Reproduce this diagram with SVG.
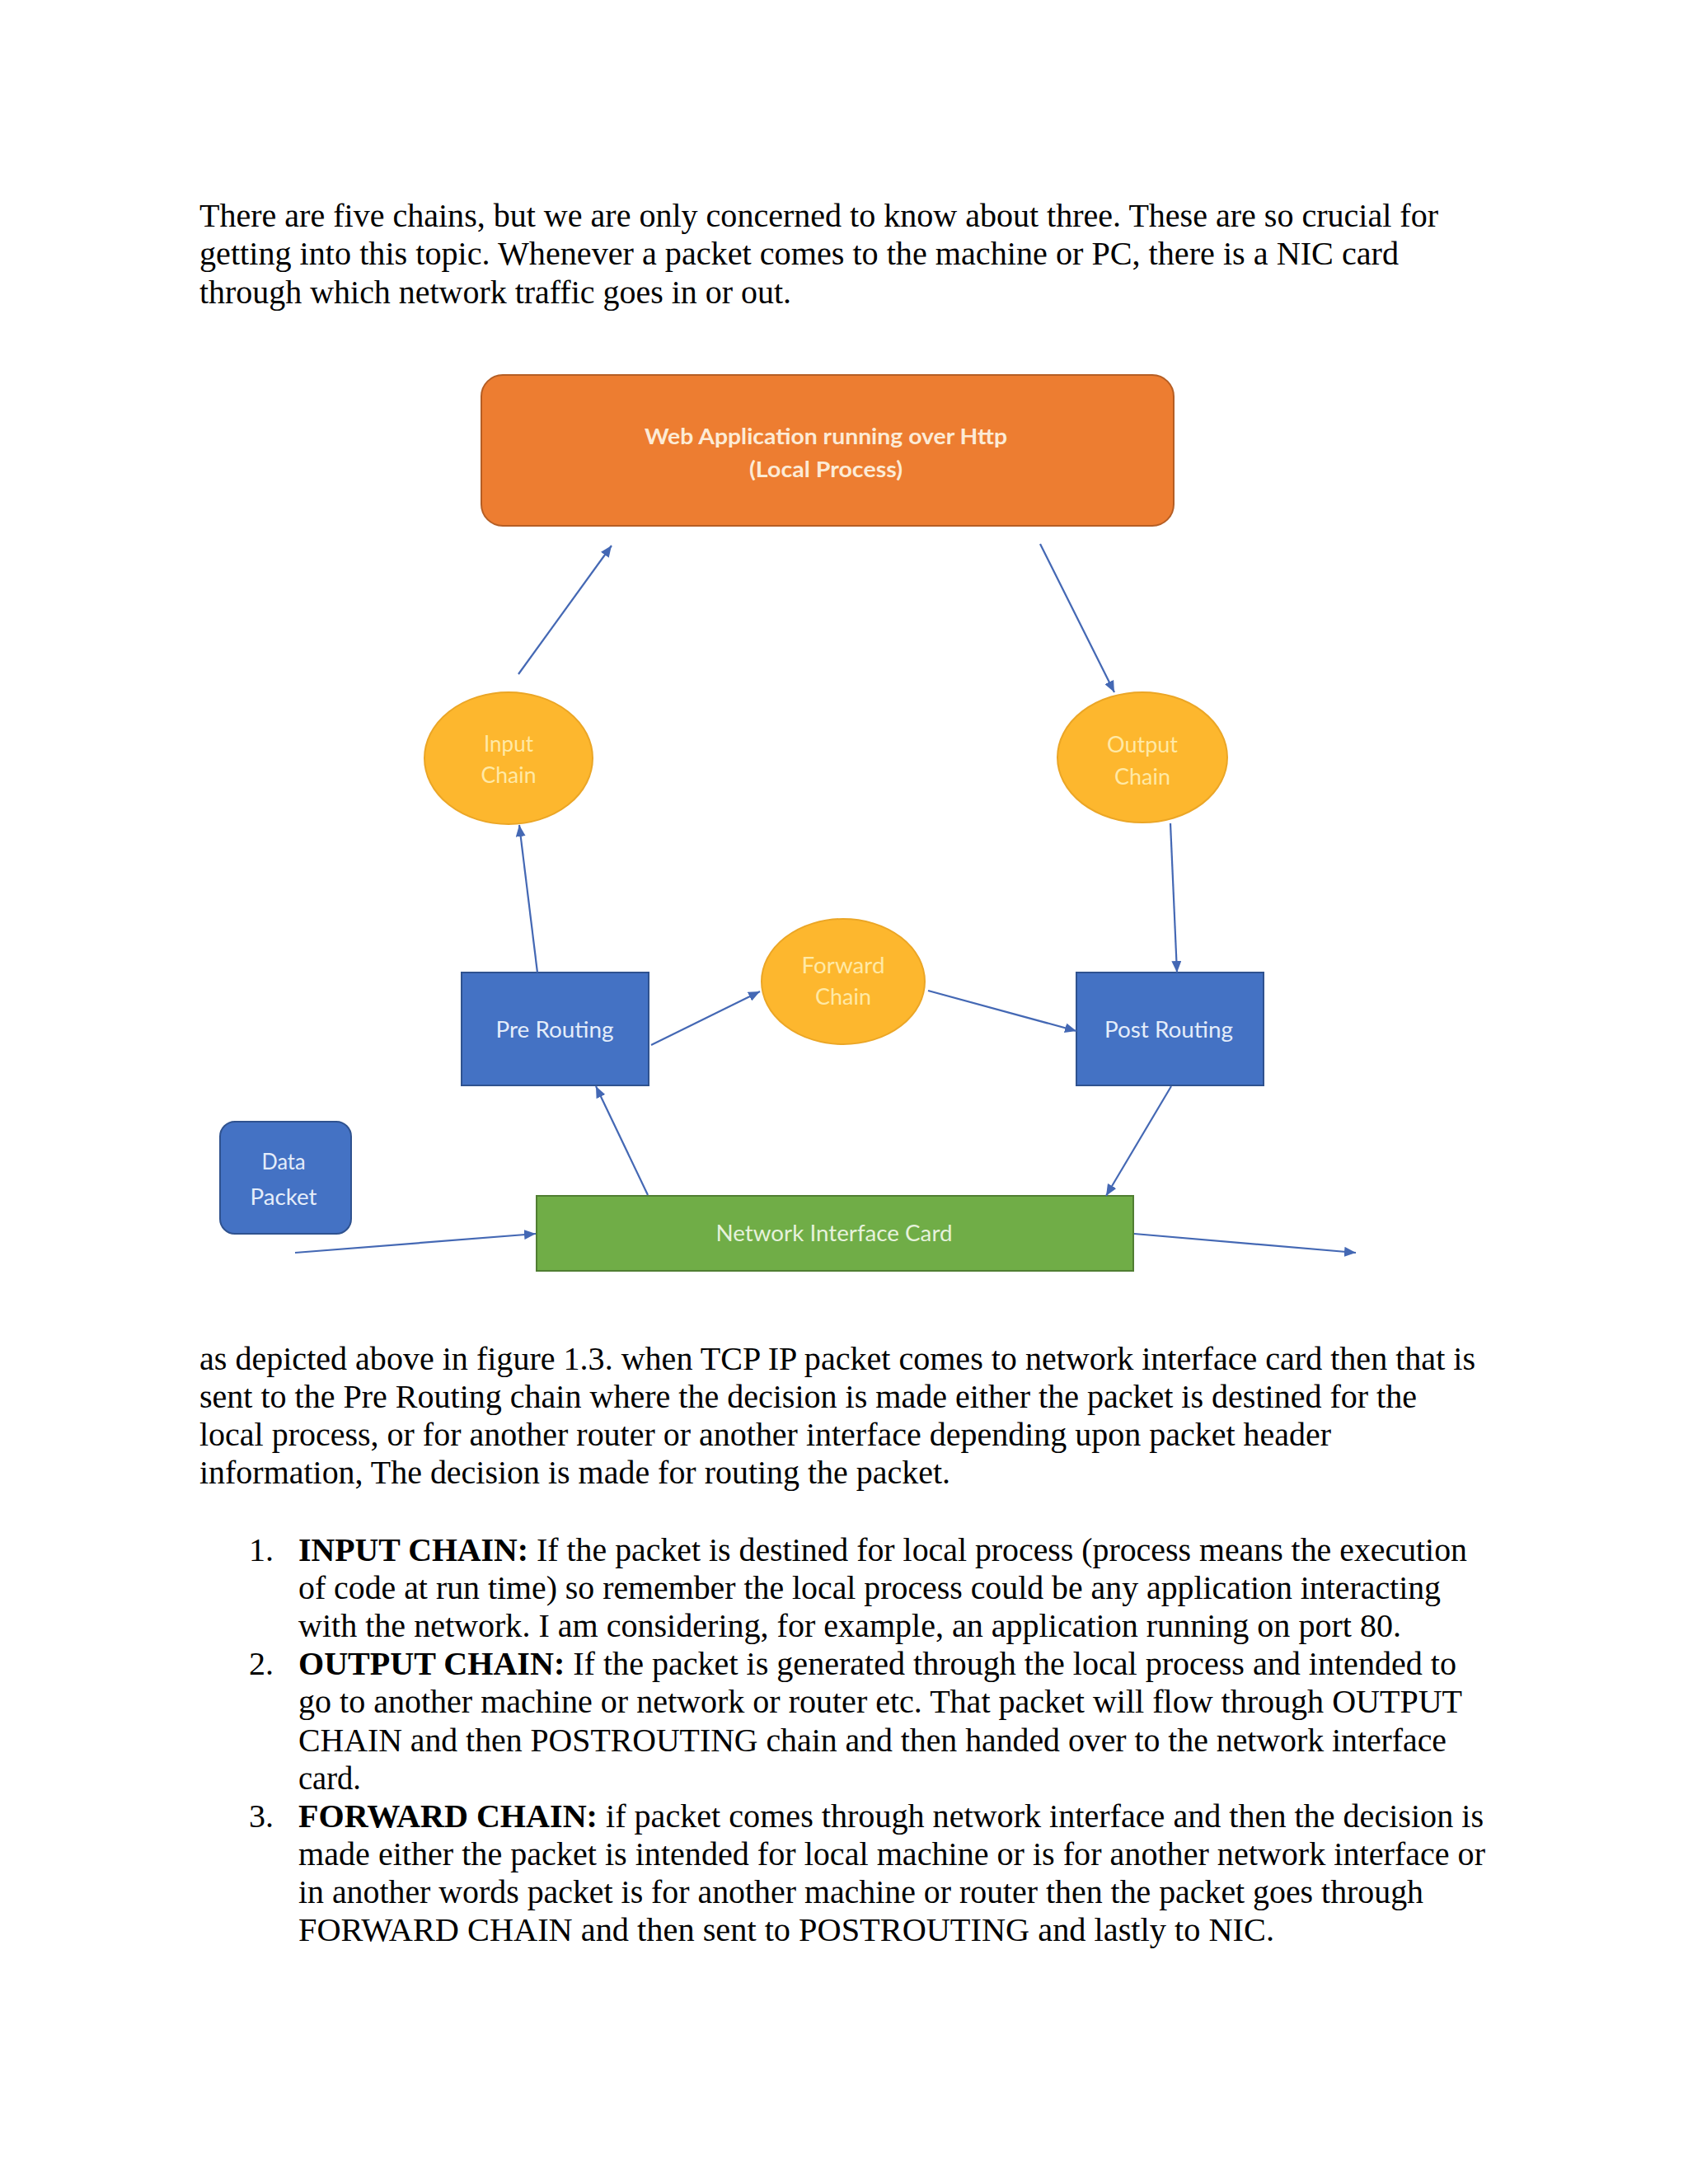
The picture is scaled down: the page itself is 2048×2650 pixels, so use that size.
<svg xmlns="http://www.w3.org/2000/svg" width="2048" height="2650" viewBox="0 0 2048 2650">
<defs>
<marker id="ah" markerUnits="userSpaceOnUse" markerWidth="16" markerHeight="12" refX="14" refY="6" orient="auto">
<path d="M0,0 L14,6 L0,12 z" fill="#4468B4"/>
</marker>
<style>
.body{font-family:"Liberation Serif","Times New Roman",serif;font-size:40px;fill:#000}
.b{font-weight:bold}
.lbl{font-family:Lato,"Open Sans",sans-serif;font-size:27px;text-anchor:middle}
.ell{fill:#FDB72E;stroke:#EBA626;stroke-width:2}
.ellt{fill:#FFE9A6}
.blue{fill:#4472C4;stroke:#2F528F;stroke-width:2}
.bluet{fill:#E4EDFA}
.conn line{stroke:#4468B4;stroke-width:2.2;marker-end:url(#ah)}
</style>
</defs>
<rect width="2048" height="2650" fill="#fff"/>

<g id="para1" class="body">
<text x="242" y="275" textLength="1503" lengthAdjust="spacingAndGlyphs">There are five chains, but we are only concerned to know about three. These are so crucial for</text>
<text x="242" y="321" textLength="1455" lengthAdjust="spacingAndGlyphs">getting into this topic. Whenever a packet comes to the machine or PC, there is a NIC card</text>
<text x="242" y="368" textLength="718" lengthAdjust="spacingAndGlyphs">through which network traffic goes in or out.</text>
</g>

<g id="webapp">
<rect x="584" y="455" width="840" height="183" rx="26" fill="#ED7D31" stroke="#B55E24" stroke-width="2"/>
<text class="lbl" x="1002" y="539" font-weight="bold" fill="#FCEBD6" textLength="440" lengthAdjust="spacingAndGlyphs">Web Application running over Http</text>
<text class="lbl" x="1002" y="579" font-weight="bold" fill="#FCEBD6" textLength="186" lengthAdjust="spacingAndGlyphs">(Local Process)</text>
</g>

<g id="input-chain">
<ellipse class="ell" cx="617" cy="920" rx="102" ry="80"/>
<text class="lbl ellt" x="617" y="912" textLength="60" lengthAdjust="spacingAndGlyphs">Input</text>
<text class="lbl ellt" x="617" y="950" textLength="67" lengthAdjust="spacingAndGlyphs">Chain</text>
</g>

<g id="output-chain">
<ellipse class="ell" cx="1386" cy="919" rx="103" ry="79"/>
<text class="lbl ellt" x="1386" y="913" textLength="86" lengthAdjust="spacingAndGlyphs">Output</text>
<text class="lbl ellt" x="1386" y="952" textLength="68" lengthAdjust="spacingAndGlyphs">Chain</text>
</g>

<g id="forward-chain">
<ellipse class="ell" cx="1023" cy="1191" rx="99" ry="76"/>
<text class="lbl ellt" x="1023" y="1181" textLength="101" lengthAdjust="spacingAndGlyphs">Forward</text>
<text class="lbl ellt" x="1023" y="1219" textLength="68" lengthAdjust="spacingAndGlyphs">Chain</text>
</g>

<g id="pre-routing">
<rect class="blue" x="560" y="1180" width="227" height="137"/>
<text class="lbl bluet" x="673" y="1259" textLength="143" lengthAdjust="spacingAndGlyphs">Pre Routing</text>
</g>

<g id="post-routing">
<rect class="blue" x="1306" y="1180" width="227" height="137"/>
<text class="lbl bluet" x="1418" y="1259" textLength="156" lengthAdjust="spacingAndGlyphs">Post Routing</text>
</g>

<g id="data-packet">
<rect class="blue" x="267" y="1361" width="159" height="136" rx="18"/>
<text class="lbl bluet" x="344" y="1419" textLength="53" lengthAdjust="spacingAndGlyphs">Data</text>
<text class="lbl bluet" x="344" y="1462" textLength="81" lengthAdjust="spacingAndGlyphs">Packet</text>
</g>

<g id="nic">
<rect x="651" y="1451" width="724" height="91" fill="#70AD47" stroke="#507E32" stroke-width="2"/>
<text class="lbl" x="1012" y="1506" fill="#E6F2DC" textLength="287" lengthAdjust="spacingAndGlyphs">Network Interface Card</text>
</g>

<g id="connectors" class="conn">
<line x1="629" y1="818" x2="742" y2="662"/>
<line x1="1262" y1="660" x2="1352" y2="840"/>
<line x1="652" y1="1180" x2="630" y2="1001"/>
<line x1="1420" y1="999" x2="1428" y2="1180"/>
<line x1="790" y1="1268" x2="922" y2="1203"/>
<line x1="1126" y1="1202" x2="1306" y2="1251"/>
<line x1="786" y1="1450" x2="723" y2="1318"/>
<line x1="1421" y1="1318" x2="1342" y2="1451"/>
<line x1="358" y1="1520" x2="650" y2="1497"/>
<line x1="1376" y1="1497" x2="1645" y2="1520"/>
</g>

<g id="para2" class="body">
<text x="242" y="1662" textLength="1548" lengthAdjust="spacingAndGlyphs">as depicted above in figure 1.3. when TCP IP packet comes to network interface card then that is</text>
<text x="242" y="1708" textLength="1477" lengthAdjust="spacingAndGlyphs">sent to the Pre Routing chain where the decision is made either the packet is destined for the</text>
<text x="242" y="1754" textLength="1373" lengthAdjust="spacingAndGlyphs">local process, or for another router or another interface depending upon packet header</text>
<text x="242" y="1800" textLength="911" lengthAdjust="spacingAndGlyphs">information, The decision is made for routing the packet.</text>
</g>

<g id="list" class="body">
<text x="302" y="1894">1.</text>
<text x="362" y="1894" textLength="1418" lengthAdjust="spacingAndGlyphs"><tspan class="b">INPUT CHAIN:</tspan> If the packet is destined for local process (process means the execution</text>
<text x="362" y="1940" textLength="1386" lengthAdjust="spacingAndGlyphs">of code at run time) so remember the local process could be any application interacting</text>
<text x="362" y="1986" textLength="1338" lengthAdjust="spacingAndGlyphs">with the network. I am considering, for example, an application running on port 80.</text>
<text x="302" y="2032">2.</text>
<text x="362" y="2032" textLength="1405" lengthAdjust="spacingAndGlyphs"><tspan class="b">OUTPUT CHAIN:</tspan> If the packet is generated through the local process and intended to</text>
<text x="362" y="2078" textLength="1412" lengthAdjust="spacingAndGlyphs">go to another machine or network or router etc. That packet will flow through OUTPUT</text>
<text x="362" y="2125" textLength="1393" lengthAdjust="spacingAndGlyphs">CHAIN and then POSTROUTING chain and then handed over to the network interface</text>
<text x="362" y="2171" textLength="76" lengthAdjust="spacingAndGlyphs">card.</text>
<text x="302" y="2217">3.</text>
<text x="362" y="2217" textLength="1438" lengthAdjust="spacingAndGlyphs"><tspan class="b">FORWARD CHAIN:</tspan> if packet comes through network interface and then the decision is</text>
<text x="362" y="2263" textLength="1440" lengthAdjust="spacingAndGlyphs">made either the packet is intended for local machine or is for another network interface or</text>
<text x="362" y="2309" textLength="1365" lengthAdjust="spacingAndGlyphs">in another words packet is for another machine or router then the packet goes through</text>
<text x="362" y="2355" textLength="1184" lengthAdjust="spacingAndGlyphs">FORWARD CHAIN and then sent to POSTROUTING and lastly to NIC.</text>
</g>
</svg>
